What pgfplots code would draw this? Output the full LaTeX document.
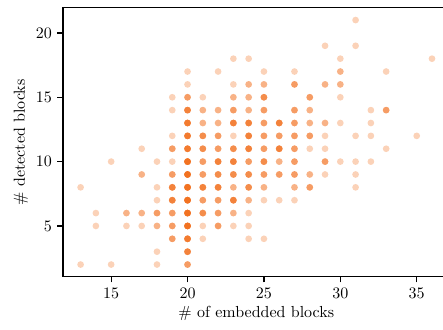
\documentclass[border=0pt]{standalone}
\usepackage{pgfplots}
\usepackage{pgfplotstable}
\pgfplotsset{compat=1.18}
\definecolor{myorange}{RGB}{241,105,19}
\pgfplotstableread{
x y n
13 8 1
13 2 1
14 6 1
14 5 1
15 10 1
15 2 1
16 6 2
16 5 1
17 11 1
17 9 2
17 6 2
17 5 1
18 10 1
18 8 1
18 7 1
18 6 3
18 5 2
18 3 1
18 2 1
19 15 1
19 14 1
19 12 1
19 11 3
19 10 1
19 9 3
19 8 5
19 7 5
19 6 3
19 5 3
19 4 3
20 17 1
20 16 1
20 15 3
20 14 5
20 13 6
20 12 6
20 11 6
20 10 8
20 9 8
20 8 8
20 7 8
20 6 8
20 5 8
20 4 6
20 3 5
20 2 3
21 15 1
21 14 2
21 13 2
21 12 4
21 11 4
21 10 3
21 9 3
21 8 5
21 7 3
21 6 4
21 5 1
21 4 1
22 17 1
22 14 2
22 13 2
22 12 3
22 11 3
22 10 5
22 9 4
22 8 5
22 7 3
22 6 3
22 5 3
23 18 1
23 16 1
23 15 2
23 14 3
23 13 5
23 12 1
23 11 4
23 10 5
23 9 4
23 8 2
23 7 5
23 6 2
23 5 1
24 18 1
24 16 2
24 15 2
24 14 2
24 13 5
24 12 5
24 11 5
24 10 3
24 9 4
24 8 4
24 7 2
24 6 1
24 5 1
24 4 1
25 17 1
25 16 2
25 15 4
25 14 3
25 13 3
25 12 3
25 11 3
25 10 4
25 9 3
25 8 2
25 7 1
25 4 1
26 13 5
26 12 3
26 11 5
26 10 2
26 9 3
26 7 1
27 17 1
27 16 3
27 14 3
27 13 3
27 12 3
27 11 3
27 10 3
27 9 3
27 8 2
27 7 1
28 15 3
28 14 2
28 13 2
28 12 3
28 11 1
28 9 2
28 8 3
29 19 1
29 16 2
29 13 2
29 12 1
29 11 1
29 10 3
29 9 1
30 18 1
30 17 2
30 16 2
30 15 1
30 13 1
30 10 1
31 21 1
31 19 1
31 12 1
31 10 1
31 9 1
31 8 1
32 14 1
32 13 1
32 12 1
32 10 1
33 17 1
33 14 3
33 11 1
35 12 1
36 18 1
}\data
\begin{document}
\begin{tikzpicture}
\begin{axis}[
  scale only axis,
  width=241.6pt, height=168.1pt,
  xmin=11.85, xmax=37.15,
  ymin=1.05, ymax=21.95,
  xtick={15,20,25,30,35},
  ytick={5,10,15,20},
  tick align=outside,
  xtick pos=bottom, ytick pos=left,
  major tick length=3.5pt,
  every tick/.style={black, line width=0.8pt},
  axis line style={line width=0.8pt},
  xlabel={\# of embedded blocks},
  ylabel={\# detected blocks},
  xlabel style={yshift=2pt},
  ylabel style={yshift=-2pt},
  clip=false,
]
\pgfplotsinvokeforeach{1,...,8}{
  \addplot[only marks, mark=*, mark size=2.1pt, color=myorange,
    mark options={line width=0pt, draw opacity=0, fill=myorange, fill opacity=0.3},
    restrict expr to domain={\thisrow{n}}{#1:99}]
    table[x=x, y=y] {\data};
}
\end{axis}
\pgfresetboundingbox
\path (-39.4pt,-33.25pt) rectangle (237.5pt,173.0pt);
\end{tikzpicture}
\end{document}
